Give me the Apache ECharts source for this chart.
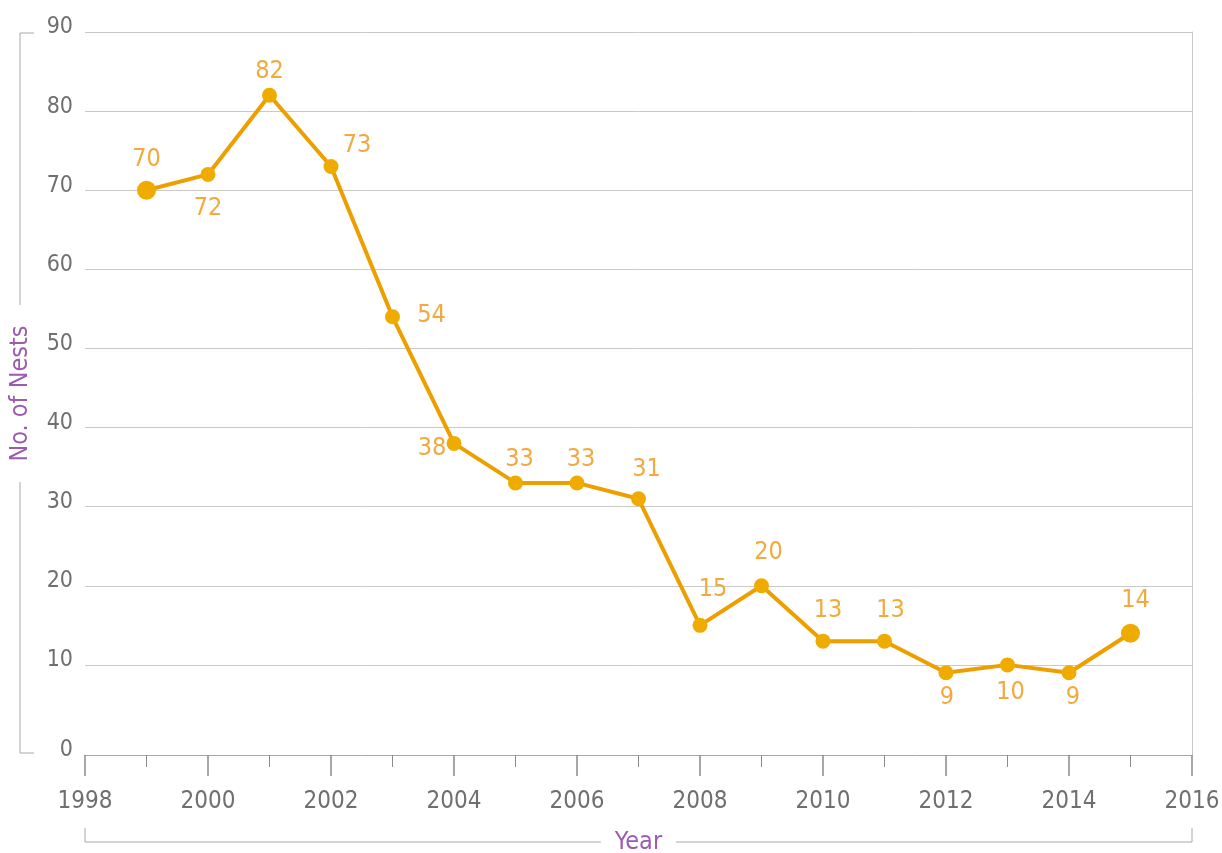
<!DOCTYPE html>
<html>
<head>
<meta charset="utf-8">
<script src="https://cdn.jsdelivr.net/npm/echarts@6/dist/echarts.min.js"></script>
<style>
  html, body { margin: 0; padding: 0; background: #fff; }
  #main { width: 1222px; height: 853px; }
</style>
</head>
<body>
<div id="main"></div>
<script>
// data
var years = [1999, 2000, 2001, 2002, 2003, 2004, 2005, 2006, 2007, 2008, 2009, 2010, 2011, 2012, 2013, 2014, 2015];
var nests = [70, 72, 82, 73, 54, 38, 33, 33, 31, 15, 20, 13, 13, 9, 10, 9, 14];

// label offsets from the point centre (style only)
var labelOffsets = [
  [0, -31], [0, 34], [0, -24], [26, -21], [39, -1], [-22, 5],
  [4, -23], [4, -23], [8, -29], [13, -36], [7, -33], [5, -31],
  [6, -31], [1, 25], [3, 28], [4, 25], [5, -33]
];

var lineColor = '#ee9f00';
var dotColor = '#efab00';
var labelColor = '#f2a93e';
var purple = '#9b5cb0';
var gray = '#6f6f6f';
var font = '"Liberation Sans Narrow", "DejaVu Sans Condensed", Roboto, sans-serif';

var chart = echarts.init(document.getElementById('main'));

var points = [];
for (var i = 0; i < years.length; i++) {
  var big = (i === 0 || i === years.length - 1);
  points.push({
    value: [years[i], nests[i]],
    symbolSize: big ? 19 : 15,
    label: {
      show: true,
      position: 'inside',
      offset: labelOffsets[i],
      color: labelColor,
      fontSize: 25,
      fontFamily: font
    }
  });
}

var yLabel = {
  color: gray,
  fontSize: 23,
  fontFamily: font,
  margin: 12,
  verticalAlign: 'bottom',
  padding: [0, 0, -7, 0]
};

var option = {
  backgroundColor: '#ffffff',
  animation: false,
  grid: [
    // plot area (0 sits 11px above the year axis)
    { left: 85, right: 30, top: 32, bottom: 109, containLabel: false, outerBoundsMode: 'none' },
    // frame: year axis + right border
    { left: 85, right: 30, top: 32, bottom: 98, containLabel: false, outerBoundsMode: 'none' }
  ],
  xAxis: [{
    type: 'value',
    gridIndex: 0,
    min: 1998,
    max: 2016,
    show: false
  }, {
    type: 'value',
    gridIndex: 1,
    min: 1998,
    max: 2016,
    interval: 2,
    name: 'Year',
    nameLocation: 'middle',
    nameGap: 75,
    nameTextStyle: {
      color: purple,
      fontSize: 25,
      fontFamily: font,
      backgroundColor: '#fff',
      padding: [0, 14]
    },
    axisLine: { show: true, lineStyle: { color: '#a8a8a8', width: 1 } },
    axisTick: { show: true, length: 21, lineStyle: { color: '#8a8a8a', width: 1.5 } },
    minorTick: { show: true, splitNumber: 2, length: 12, lineStyle: { color: '#8a8a8a', width: 1 } },
    splitLine: { show: false },
    axisLabel: {
      color: gray,
      fontSize: 24,
      fontFamily: font,
      margin: 35,
      formatter: function (v) { return String(v); }
    }
  }],
  yAxis: [{
    type: 'value',
    gridIndex: 0,
    min: 0,
    max: 90,
    interval: 10,
    axisLine: { show: false },
    axisTick: { show: false },
    splitLine: { show: true, showMinLine: false, lineStyle: { color: '#c9c9c9', width: 1 } },
    axisLabel: Object.assign({}, yLabel, {
      formatter: function (v) { return v === 0 ? '' : String(v); }
    })
  }, {
    type: 'value',
    gridIndex: 1,
    min: 0,
    max: 90,
    interval: 10,
    position: 'left',
    name: 'No. of Nests',
    nameLocation: 'middle',
    nameRotate: 90,
    nameGap: 52,
    nameTextStyle: {
      color: purple,
      fontSize: 25,
      fontFamily: font
    },
    axisLine: { show: false },
    axisTick: { show: false },
    axisLabel: Object.assign({}, yLabel, {
      formatter: function (v) { return v === 0 ? '0' : ''; }
    }),
    splitLine: { show: false }
  }, {
    type: 'value',
    gridIndex: 1,
    min: 0,
    max: 90,
    position: 'right',
    axisLine: { show: true, lineStyle: { color: '#c9c9c9', width: 1 } },
    axisTick: { show: false },
    axisLabel: { show: false },
    splitLine: { show: false }
  }],
  graphic: [
    // left bracket
    { type: 'polyline', shape: { points: [[34, 33], [20, 33], [20, 305]] }, style: { stroke: '#a8a8a8', lineWidth: 1, fill: null } },
    { type: 'polyline', shape: { points: [[20, 482], [20, 753], [34, 753]] }, style: { stroke: '#a8a8a8', lineWidth: 1, fill: null } },
    // bottom bracket
    { type: 'polyline', shape: { points: [[85, 828], [85, 842], [1192, 842], [1192, 828]] }, style: { stroke: '#a8a8a8', lineWidth: 1, fill: null }, z: 0 }
  ],
  series: [{
    type: 'line',
    xAxisIndex: 0,
    yAxisIndex: 0,
    data: points,
    symbol: 'circle',
    symbolSize: 15,
    lineStyle: { color: lineColor, width: 4 },
    itemStyle: { color: dotColor },
    z: 5
  }]
};

chart.setOption(option);
</script>
</body>
</html>
